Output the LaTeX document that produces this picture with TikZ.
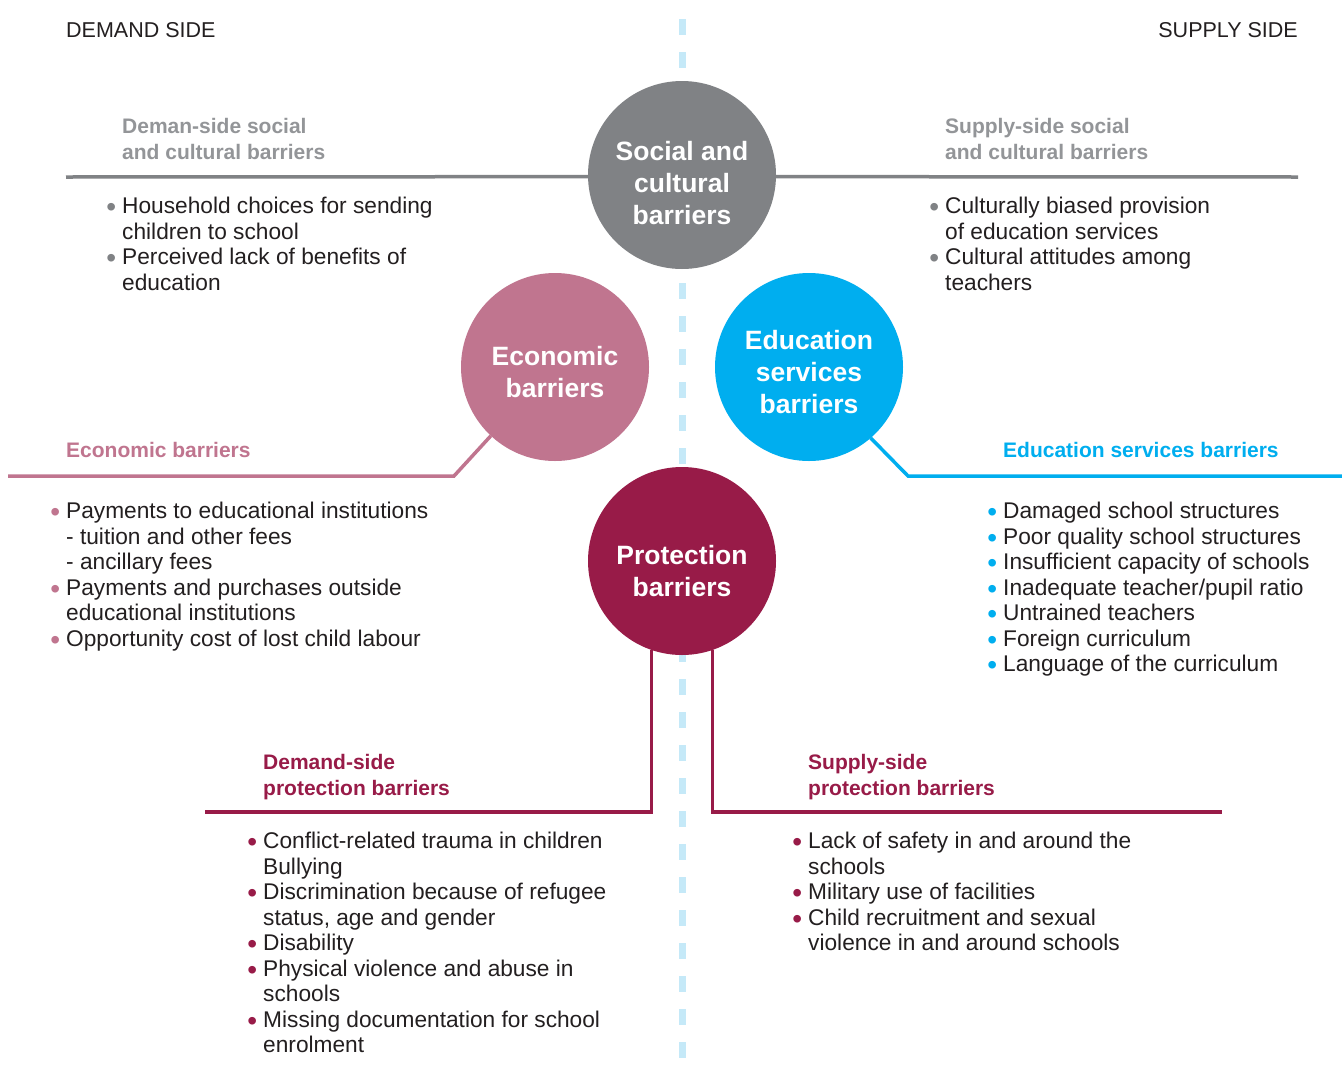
\documentclass[tikz,border=0pt]{standalone}
\usepackage{fontspec}
\setmainfont{Liberation Sans}
\usepackage{tikz}
\usepackage{xcolor}
\usetikzlibrary{shapes.geometric, arrows}

\definecolor{socgrey}{HTML}{808285}
\definecolor{sochead}{HTML}{939598}
\definecolor{econpink}{HTML}{C0758F}
\definecolor{edublue}{HTML}{00AEEF}
\definecolor{protred}{HTML}{981B48}
\definecolor{bodytext}{HTML}{231F20}
\definecolor{midblue}{HTML}{C5E9F8}

\newcommand{\bodyfont}{\fontsize{22.7}{25.5}\selectfont}
\newcommand{\headfont}{\fontsize{21}{26}\selectfont\bfseries}
\newcommand{\circfont}{\fontsize{26.5}{32}\selectfont\bfseries}
\newcommand{\bul}[1]{\makebox[0pt][r]{\textcolor{#1}{\raisebox{-3pt}{\fontsize{28}{28}\selectfont\textbullet}}\hspace{6pt}}}
\newcommand{\circtext}[2]{\raisebox{#1}[\height][\depth]{\begin{tabular}{@{}c@{}}#2\end{tabular}}}

\tikzstyle{circ} = [circle, minimum size=188pt, inner sep=0pt, outer sep=0pt, text=white, font=\circfont]
\tikzstyle{head} = [anchor=north west, inner sep=0pt, align=left, font=\headfont]
\tikzstyle{list} = [anchor=north west, inner sep=0pt, align=left, font=\bodyfont, text=bodytext]
\tikzstyle{side} = [inner sep=0pt, font=\fontsize{21.5}{26}\selectfont, text=bodytext]
\tikzstyle{link} = [line width=3.5pt]
\tikzstyle{midline} = [draw=midblue, line width=7pt, dash pattern=on 16pt off 17pt]

\begin{document}
\begin{tikzpicture}[x=1pt, y=-1pt]
\useasboundingbox[fill=white] (0,0) rectangle (1342,1066);

% dividing line
\coordinate (divtop) at (682,19);
\coordinate (divbot) at (682,1066);
\draw [midline] (divtop) -- (divbot);

\node [side, anchor=north west] (dem) at (66,22) {DEMAND SIDE};
\node [side, anchor=north east] (sup) at (1298,22) {SUPPLY SIDE};

% the four barriers
\node [circ, fill=socgrey] (social) at (682,175) {\circtext{-11pt}{Social and\\cultural\\barriers}};
\node [circ, fill=econpink] (econ) at (555,367) {\circtext{-8pt}{Economic\\barriers}};
\node [circ, fill=edublue] (edu) at (809,367) {\circtext{-8pt}{Education\\services\\barriers}};
\node [circ, fill=protred] (prot) at (682,561) {\circtext{-13pt}{Protection\\barriers}};

\coordinate (socL) at (66,177);
\coordinate (socR) at (1298,177);
\coordinate (econK) at (454,476);
\coordinate (econL) at (8,476);
\coordinate (eduK) at (908,476);
\coordinate (eduR) at (1342,476);
\coordinate (protL) at (205,812);
\coordinate (protR) at (1222,812);

\draw [link, socgrey] (social.181) -- (socL);
\draw [link, socgrey] (social.-1) -- (socR);
\draw [link, econpink] (econ.227) -- (econK) -- (econL);
\draw [link, edublue] (edu.311) -- (eduK) -- (eduR);
\draw [link, protred] (prot.251) |- (protL);
\draw [link, protred] (prot.289) |- (protR);

% social and cultural
\node [head, text=sochead] (socdh) at (122,118) {Deman-side social\\and cultural barriers};
\node [list] (socdl) at (122,197) {\bul{socgrey}Household choices for sending\\children to school\\\bul{socgrey}Perceived lack of benefits of\\education};
\node [head, text=sochead] (socsh) at (945,118) {Supply-side social\\and cultural barriers};
\node [list] (socsl) at (945,197) {\bul{socgrey}Culturally biased provision\\of education services\\\bul{socgrey}Cultural attitudes among\\teachers};

% economic
\node [head, text=econpink] (econh) at (66,442) {Economic barriers};
\node [list] (econl) at (66,502) {\bul{econpink}Payments to educational institutions\\- tuition and other fees\\- ancillary fees\\\bul{econpink}Payments and purchases outside\\educational institutions\\\bul{econpink}Opportunity cost of lost child labour};

% education services
\node [head, text=edublue] (eduh) at (1003,442) {Education services barriers};
\node [list] (edul) at (1003,502) {\bul{edublue}Damaged school structures\\\bul{edublue}Poor quality school structures\\\bul{edublue}Insufficient capacity of schools\\\bul{edublue}Inadequate teacher/pupil ratio\\\bul{edublue}Untrained teachers\\\bul{edublue}Foreign curriculum\\\bul{edublue}Language of the curriculum};

% protection
\node [head, text=protred] (protdh) at (263,754) {Demand-side\\protection barriers};
\node [list] (protdl) at (263,832) {\bul{protred}Conflict-related trauma in children\\Bullying\\\bul{protred}Discrimination because of refugee\\status, age and gender\\\bul{protred}Disability\\\bul{protred}Physical violence and abuse in\\schools\\\bul{protred}Missing documentation for school\\enrolment};
\node [head, text=protred] (protsh) at (808,754) {Supply-side\\protection barriers};
\node [list] (protsl) at (808,832) {\bul{protred}Lack of safety in and around the\\schools\\\bul{protred}Military use of facilities\\\bul{protred}Child recruitment and sexual\\violence in and around schools};

\end{tikzpicture}
\end{document}
